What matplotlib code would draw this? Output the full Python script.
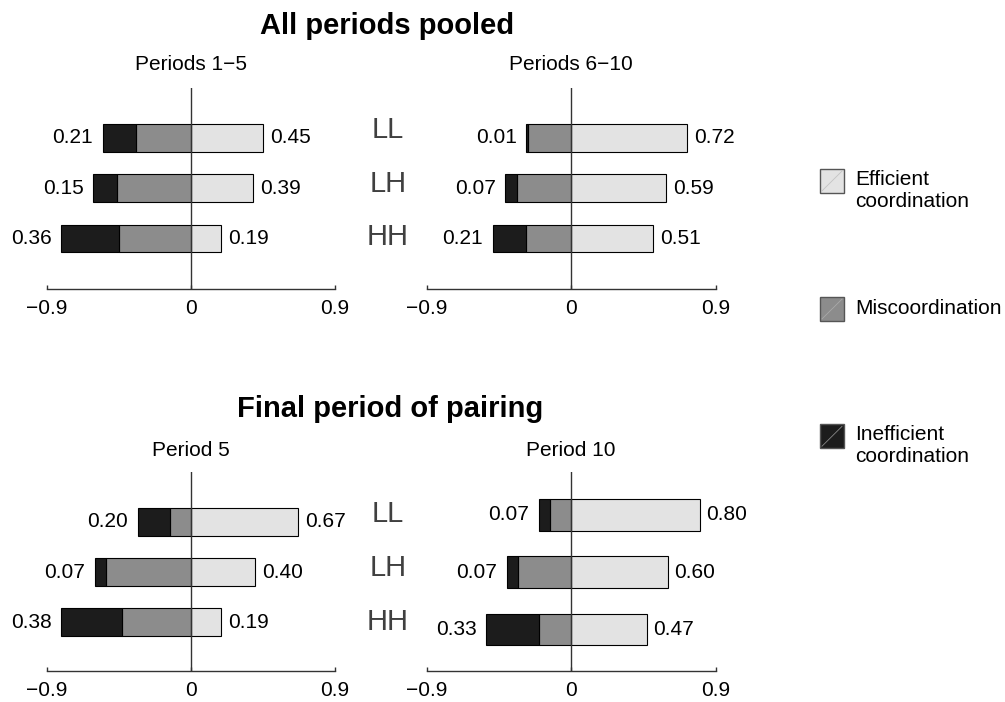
import matplotlib
matplotlib.use("Agg")
import matplotlib.pyplot as plt
from matplotlib.patches import Rectangle
from matplotlib.lines import Line2D

plt.rcParams['font.family'] = ['Liberation Sans', 'DejaVu Sans']

# ---------------- data ----------------
groups = ["HH", "LH", "LL"]          # bottom to top
panel_titles = ["Periods 1\u22125", "Periods 6\u221210", "Period 5", "Period 10"]
section_titles = ["All periods pooled", "Final period of pairing"]

efficient = [
    [0.19, 0.39, 0.45],
    [0.51, 0.59, 0.72],
    [0.19, 0.40, 0.67],
    [0.47, 0.60, 0.80],
]
miscoord = [
    [0.45, 0.46, 0.34],
    [0.28, 0.34, 0.27],
    [0.43, 0.53, 0.13],
    [0.20, 0.33, 0.13],
]
inefficient = [
    [0.36, 0.15, 0.21],
    [0.21, 0.07, 0.01],
    [0.38, 0.07, 0.20],
    [0.33, 0.07, 0.07],
]
legend_labels = ["Efficient\ncoordination", "Miscoordination", "Inefficient\ncoordination"]
xticks = [-0.9, 0, 0.9]
xticklabels = ["\u22120.9", "0", "0.9"]

# ---------------- style ----------------
c_eff, c_mis, c_ineff = "#e3e3e3", "#8c8c8c", "#1c1c1c"
W, H = 1005, 702
fig = plt.figure(figsize=(W / 100, H / 100), dpi=100)

def fx(px):
    return px / W

def fy(py):
    return 1 - py / H

# axes rectangles (pixel coordinates: left, right, top, bottom)
boxes = [
    (46.7, 335.0, 88.0, 289.0),
    (426.7, 715.7, 88.0, 289.0),
    (46.7, 335.0, 471.7, 671.0),
    (426.7, 715.7, 472.3, 671.0),
]
ylims = [(-1.0, 2.99), (-1.0, 2.99), (-0.97, 3.0), (-0.72, 2.74)]
subtitle_base = [69.5, 69.5, 456.0, 456.0]
FS = 15

for i, (l, r, t, b) in enumerate(boxes):
    ax = fig.add_axes([fx(l), fy(b), fx(r) - fx(l), (b - t) / H])
    ypos = list(range(len(groups)))
    e, m, n = efficient[i], miscoord[i], inefficient[i]
    negm = [-v for v in m]
    negn = [-v for v in n]
    ax.barh(ypos, e, height=0.55, color=c_eff, edgecolor="black", linewidth=0.8, zorder=2)
    ax.barh(ypos, negm, height=0.55, color=c_mis, edgecolor="black", linewidth=0.8, zorder=2)
    ax.barh(ypos, negn, left=negm, height=0.55, color=c_ineff, edgecolor="black", linewidth=0.8, zorder=2)
    ax.axvline(0, color="#333333", linewidth=1.0, zorder=3)
    for y, ev, mv, nv in zip(ypos, e, m, n):
        ax.annotate(f"{nv:.2f}", xy=(-(mv + nv), y), xytext=(-7, 0), textcoords="offset points",
                    ha="right", va="center", fontsize=FS, annotation_clip=False)
        ax.annotate(f"{ev:.2f}", xy=(ev, y), xytext=(5, 0), textcoords="offset points",
                    ha="left", va="center", fontsize=FS, annotation_clip=False)
    ax.set_xlim(-0.9, 0.9)
    ax.set_ylim(*ylims[i])
    ax.set_xticks(xticks)
    ax.set_xticklabels(xticklabels, fontsize=FS)
    ax.set_yticks([])
    for s in ("top", "left", "right"):
        ax.spines[s].set_visible(False)
    ax.spines["bottom"].set_linewidth(1.0)
    ax.spines["bottom"].set_color("#333333")
    ax.tick_params(axis="x", direction="in", length=3, width=1.0, color="#333333", pad=7)
    ax.patch.set_alpha(0)
    # panel subtitle
    fig.text(fx((l + r) / 2), fy(subtitle_base[i]), panel_titles[i], ha="center",
             va="baseline", fontsize=FS)

# section titles
fig.text(fx(387.5), fy(34.5), section_titles[0], ha="center", va="baseline",
         fontsize=21, fontweight="bold")
fig.text(fx(390), fy(417.0), section_titles[1], ha="center", va="baseline",
         fontsize=21, fontweight="bold")

# group labels between panels
label_y = [[236.5, 184.0, 129.5], [622.0, 568.5, 513.5]]
for row in range(2):
    for g, yy in zip(groups, label_y[row]):
        fig.text(fx(388), fy(yy), g, ha="center", va="center", fontsize=21,
                 color="#404040")

# legend
leg_colors = [c_eff, c_mis, c_ineff]
leg_sq_top = [169.0, 297.0, 424.3]
sq = 24.0
for col, lab, top in zip(leg_colors, legend_labels, leg_sq_top):
    x0, x1 = fx(820), fx(820 + sq)
    y0, y1 = fy(top + sq), fy(top)
    fig.patches.append(Rectangle((x0, y0), x1 - x0, y1 - y0, transform=fig.transFigure,
                                 facecolor=col, edgecolor="#555555", linewidth=1.0))
    fig.lines.append(Line2D([x0 + 0.002, x1 - 0.002], [y0 + 0.003, y1 - 0.003],
                            transform=fig.transFigure, color="#b5b5b5", linewidth=0.6, alpha=0.7))
    if "\n" in lab:
        fig.text(fx(855), fy(top + 1), lab, ha="left", va="top", fontsize=FS, linespacing=1.2)
    else:
        fig.text(fx(855), fy(top + sq / 2), lab, ha="left", va="center", fontsize=FS)

fig.savefig("out.png", dpi=100)
